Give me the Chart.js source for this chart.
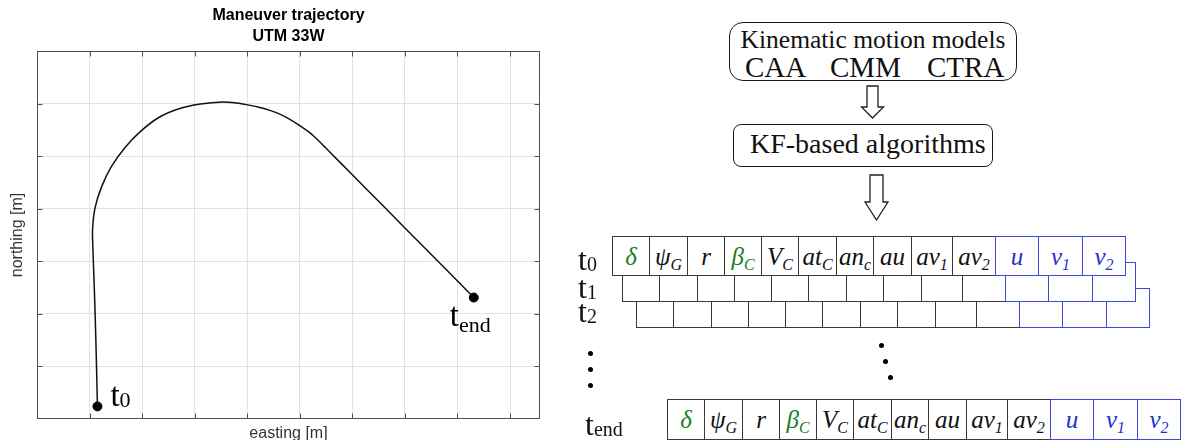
<!DOCTYPE html>
<html>
<head>
<meta charset="utf-8">
<title>Maneuver trajectory</title>
<script src="https://cdn.jsdelivr.net/npm/chart.js@4.4.0/dist/chart.umd.min.js"></script>
<style>
  html, body { margin: 0; padding: 0; background: #fff; }
  body { position: relative; width: 1182px; height: 440px; overflow: hidden;
         font-family: "Liberation Serif", "Times New Roman", serif; color: #111; }
  #chartBox { position: absolute; left: 0; top: 0; width: 577px; height: 440px; }
  .rbox { position: absolute; box-sizing: border-box; border: 1.5px solid #1c1c1c; background: #fff; }
  .txt { position: absolute; white-space: nowrap; }
  .cell { position: absolute; box-sizing: border-box; border: 1px solid #3a3a3a; background: #fff;
          text-align: center; font-style: italic; font-size: 25px; line-height: 39px; }
  .cell.blue { border-color: #3b48e6; }
  .cell sub { font-size: 16px; vertical-align: -5px; line-height: 0; }
  .g { color: #1a7f1a; }
  .b { color: #1f2fd0; }
  .tlab { position: absolute; font-size: 32px; line-height: 32px; white-space: nowrap; }
  .tlab sub { font-size: 20px; vertical-align: -1px; line-height: 0; }
  .dot { position: absolute; width: 5px; height: 5px; border-radius: 50%; background: #000; }
  svg { position: absolute; overflow: visible; }
</style>
</head>
<body>
<div id="chartBox"><canvas id="trajChart"></canvas></div>
<div id="diagram"></div>

<script>
// trajectory (grid units)
const easting  = [1.15, 1.12, 1.09, 1.065, 1.057, 1.105, 1.23, 1.42, 1.68, 1.97, 2.31, 2.70, 3.11,
                  3.53, 3.80, 4.01, 4.24, 4.43, 4.62, 4.81, 5.00, 5.17, 5.32, 5.46, 5.57,
                  5.99, 6.58, 7.00, 7.53, 8.01, 8.31];
const northing = [0.24, 1.50, 2.50, 3.20, 3.60, 4.02, 4.42, 4.81, 5.17, 5.47, 5.73, 5.90, 5.99,
                  6.03, 6.01, 5.975, 5.925, 5.87, 5.80, 5.70, 5.58, 5.46, 5.33, 5.19, 5.08,
                  4.655, 4.06, 3.635, 3.10, 2.615, 2.31];

const xGrid = [1, 2, 3, 4, 5, 6, 7, 8, 9];
const yGrid = [1, 2, 3, 4, 5, 6];
const xMax = 9.57;
const yMax = 7;

const titleLines = ['Maneuver trajectory', 'UTM 33W'];
const xTitle = 'easting [m]';
const yTitle = 'northing [m]';
const endSubs = ['0', 'end'];

// state vector shown in the diagram
const stateCells = [
    { s: 'δ', col: 'g' }, { s: 'ψ', sub: 'G' }, { s: 'r' }, { s: 'β', sub: 'C', col: 'g' },
    { s: 'V', sub: 'C' }, { s: 'at', sub: 'C' }, { s: 'an', sub: 'c' }, { s: 'au' },
    { s: 'av', sub: '1' }, { s: 'av', sub: '2' },
    { s: 'u', col: 'b' }, { s: 'v', sub: '1', col: 'b' }, { s: 'v', sub: '2', col: 'b' }
];
const modelNames = ['CAA', 'CMM', 'CTRA'];

const trajPoints = easting.map((x, i) => ({ x: x, y: northing[i] }));
const endPoints = [trajPoints[0], trajPoints[trajPoints.length - 1]];

const sansFont = '"Liberation Sans", Arial, Helvetica, sans-serif';
const serifFont = '"Liberation Serif", "Times New Roman", serif';

// box around the axes plus the short inward ticks (matlab look)
const axesFrame = {
    id: 'axesFrame',
    afterDatasetsDraw(chart) {
        const { ctx, chartArea: a, scales } = chart;
        const L = Math.round(a.left) + 0.5, R = Math.round(a.right) - 0.5;
        const T = Math.round(a.top) + 0.5, B = Math.round(a.bottom) - 0.5;
        ctx.save();
        ctx.strokeStyle = '#505050';
        ctx.lineWidth = 1;
        ctx.strokeRect(L, T, R - L, B - T);
        ctx.beginPath();
        xGrid.forEach(v => {
            const px = Math.round(scales.x.getPixelForValue(v)) + 0.5;
            ctx.moveTo(px, B); ctx.lineTo(px, B - 5);
            ctx.moveTo(px, T); ctx.lineTo(px, T + 5);
        });
        yGrid.forEach(v => {
            const py = Math.round(scales.y.getPixelForValue(v)) + 0.5;
            ctx.moveTo(L, py); ctx.lineTo(L + 5, py);
            ctx.moveTo(R, py); ctx.lineTo(R - 5, py);
        });
        ctx.stroke();
        ctx.restore();
    }
};

// t0 / tend annotations next to the end markers
const endLabels = {
    id: 'endLabels',
    afterDatasetsDraw(chart) {
        const ctx = chart.ctx;
        const meta = chart.getDatasetMeta(1);
        const offs = [{ dx: 13, dy: 0, sdy: 1 }, { dx: -24, dy: 28, sdy: 6 }];
        ctx.save();
        ctx.fillStyle = '#000';
        ctx.textBaseline = 'alphabetic';
        meta.data.forEach((pt, i) => {
            const o = offs[i];
            const x = pt.x + o.dx, y = pt.y + o.dy;
            ctx.font = '33px ' + serifFont;
            ctx.fillText('t', x, y);
            const w = ctx.measureText('t').width;
            ctx.font = '22px ' + serifFont;
            ctx.fillText(endSubs[i], x + w, y + o.sdy);
        });
        ctx.restore();
    }
};

new Chart(document.getElementById('trajChart'), {
    type: 'scatter',
    data: {
        datasets: [
            {
                data: trajPoints,
                showLine: true,
                borderColor: '#111',
                borderWidth: 1.5,
                tension: 0.3,
                pointRadius: 0
            },
            {
                data: endPoints,
                showLine: false,
                pointRadius: 4.5,
                pointBackgroundColor: '#000',
                pointBorderColor: '#000'
            }
        ]
    },
    options: {
        responsive: true,
        maintainAspectRatio: false,
        animation: false,
        layout: { padding: 0 },
        plugins: {
            legend: { display: false },
            tooltip: { enabled: false },
            title: {
                display: true,
                text: titleLines,
                color: '#000',
                font: { family: sansFont, size: 16, weight: 'bold', lineHeight: 1.3125 },
                padding: { top: 5, bottom: 4 }
            }
        },
        scales: {
            x: {
                type: 'linear',
                min: 0,
                max: xMax,
                afterBuildTicks: s => { s.ticks = xGrid.map(v => ({ value: v })); },
                ticks: { display: false },
                grid: { color: '#e2e2e2', drawTicks: false },
                border: { display: false },
                title: {
                    display: true, text: xTitle, color: '#333',
                    font: { family: sansFont, size: 16 },
                    padding: { top: 5.4, bottom: -3.6 }
                }
            },
            y: {
                type: 'linear',
                min: 0,
                max: yMax,
                afterBuildTicks: s => { s.ticks = yGrid.map(v => ({ value: v })); },
                ticks: { display: false },
                grid: { color: '#e2e2e2', drawTicks: false },
                border: { display: false },
                title: {
                    display: true, text: yTitle, color: '#333',
                    font: { family: sansFont, size: 16 },
                    padding: { top: 8.4, bottom: 9.4 }
                }
            },
            // empty right axis, only keeps the plot centred under the title
            yRight: {
                position: 'right',
                min: 0,
                max: yMax,
                ticks: { display: false },
                grid: { display: false, drawTicks: false },
                border: { display: false },
                afterFit: s => { s.width = 37; }
            }
        }
    },
    plugins: [axesFrame, endLabels]
});

// ---- right hand diagram ----
const dia = document.getElementById('diagram');

function el(tag, cls, css, html) {
    const d = document.createElement(tag);
    if (cls) d.className = cls;
    if (css) d.style.cssText = css;
    if (html !== undefined) d.innerHTML = html;
    dia.appendChild(d);
    return d;
}

// motion models box
el('div', 'rbox', 'left:729px;top:22px;width:288px;height:59px;border-radius:14px;');
el('div', 'txt', 'left:729px;width:288px;text-align:center;top:27px;font-size:25.5px;line-height:25px;',
   'Kinematic motion models');
const modelX = [745, 830, 927];
modelNames.forEach((m, i) => {
    el('div', 'txt', 'left:' + modelX[i] + 'px;top:53px;font-size:29px;line-height:28px;', m);
});

// KF box
el('div', 'rbox', 'left:733px;top:124px;width:260px;height:43px;border-radius:8px;');
el('div', 'txt', 'left:750px;top:130px;font-size:28px;line-height:28px;', 'KF-based algorithms');

// hollow arrows
function arrow(cx, top, neck, tip, sw, hw) {
    const pts = [[cx - sw, top], [cx + sw, top], [cx + sw, neck], [cx + hw, neck], [cx, tip],
                 [cx - hw, neck], [cx - sw, neck]].map(p => p.join(',')).join(' ');
    const s = document.createElementNS('http://www.w3.org/2000/svg', 'svg');
    s.setAttribute('width', 1182); s.setAttribute('height', 440);
    s.style.left = '0px'; s.style.top = '0px';
    s.innerHTML = '<polygon points="' + pts + '" fill="#fff" stroke="#222" stroke-width="1.3"/>';
    dia.appendChild(s);
}
arrow(872.5, 86, 107, 118, 5.5, 11);
arrow(876.5, 175, 202, 220, 6.5, 11.5);

// state rows (back to front)
const cellW = [37, 38, 37, 37, 37, 38, 37, 38, 41, 43, 43, 44, 43];
const rows = [
    { left: 636, top: 288, filled: false },
    { left: 622, top: 262, filled: false },
    { left: 612, top: 236, filled: true },
    { left: 667, top: 399, filled: true, h: 41 }
];
rows.forEach(r => {
    let x = r.left;
    const h = r.h || 40;
    const blueDivs = [];
    stateCells.forEach((c, i) => {
        const blue = c.col === 'b';
        let inner = '';
        if (r.filled) {
            inner = '<span class="' + (c.col || '') + '">' + c.s +
                    (c.sub ? '<sub>' + c.sub + '</sub>' : '') + '</span>';
        }
        const d = el('div', 'cell' + (blue ? ' blue' : ''),
                     'left:' + x + 'px;top:' + r.top + 'px;width:' + (cellW[i] + 1) + 'px;height:' + h + 'px;',
                     inner);
        if (blue) blueDivs.push(d);
        x += cellW[i];
    });
    blueDivs.forEach(d => dia.appendChild(d));
});

// time labels
const tLabels = [
    { sub: '0', left: 578, top: 243 },
    { sub: '1', left: 578, top: 271 },
    { sub: '2', left: 578, top: 295 },
    { sub: 'end', left: 585, top: 408 }
];
tLabels.forEach(t => el('div', 'tlab', 'left:' + t.left + 'px;top:' + t.top + 'px;', 't<sub>' + t.sub + '</sub>'));

// ellipsis dots
[[590, 353], [590, 369], [590, 385], [881, 345], [885, 361], [890, 377]].forEach(p => {
    el('div', 'dot', 'left:' + (p[0] - 2.5) + 'px;top:' + (p[1] - 2.5) + 'px;');
});
</script>
</body>
</html>
